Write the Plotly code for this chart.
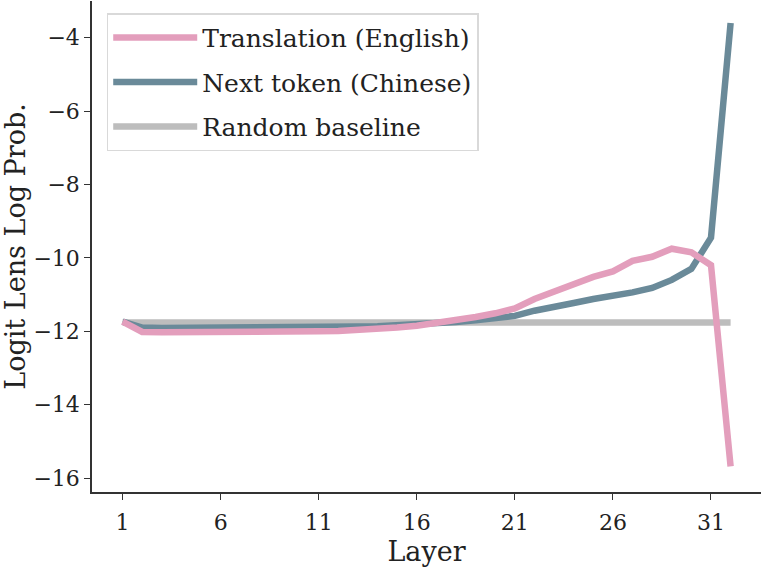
import plotly.graph_objects as go

# data
layers = list(range(1, 33))
translation_en = [-11.74, -12.02, -12.03, -12.03, -12.04, -12.04, -12.03, -12.03, -12.03, -12.02,
                  -12.00, -11.99, -11.97, -11.94, -11.90, -11.85, -11.78, -11.70, -11.61, -11.51,
                  -11.38, -11.12, -10.92, -10.70, -10.52, -10.37, -10.08, -9.97, -9.75, -9.85,
                  -10.20, -15.68]
next_token_zh = [-11.74, -11.90, -11.91, -11.91, -11.91, -11.91, -11.90, -11.90, -11.90, -11.89,
                 -11.89, -11.88, -11.87, -11.86, -11.84, -11.82, -11.78, -11.75, -11.70, -11.65,
                 -11.58, -11.44, -11.35, -11.23, -11.12, -11.05, -10.94, -10.82, -10.60, -10.30,
                 -9.45, -3.60]
random_baseline = -11.76

PINK = "#E39EBC"
TEAL = "#6A8A99"
GRAY = "#BDBDBD"
FONT = "DejaVu Serif"

fig = go.Figure()

fig.add_trace(go.Scatter(
    x=layers, y=[random_baseline] * len(layers), mode="lines",
    line=dict(color=GRAY, width=6.5), name="Random baseline",
    legendrank=3, legendgroup="c",
))
fig.add_trace(go.Scatter(
    x=layers, y=next_token_zh, mode="lines",
    line=dict(color=TEAL, width=6.5), name="Next token (Chinese)",
    legendrank=2, legendgroup="b",
))
fig.add_trace(go.Scatter(
    x=layers, y=translation_en, mode="lines",
    line=dict(color=PINK, width=6.5), name="Translation (English)",
    legendrank=1, legendgroup="a",
))

axis_common = dict(
    showline=True, linecolor="#333333", linewidth=1.5,
    ticks="outside", ticklen=6, tickwidth=1.3, tickcolor="#333333",
    showgrid=False, zeroline=False, automargin=False,
    tickfont=dict(family=FONT, size=22, color="#222222"),
)

fig.update_layout(
    width=761, height=571,
    margin=dict(l=92, r=0, t=1, b=79),
    plot_bgcolor="white", paper_bgcolor="white",
    font=dict(family=FONT, color="#222222"),
    xaxis=dict(
        range=[-0.56, 33.55], tickvals=[1, 6, 11, 16, 21, 26, 31],
        ticklabelstandoff=4,
        title=dict(text="Layer", font=dict(family=FONT, size=27), standoff=8),
        **axis_common,
    ),
    yaxis=dict(
        range=[-16.38, -3.0], tickvals=[-16, -14, -12, -10, -8, -6, -4],
        title=dict(text="Logit Lens Log Prob.", font=dict(family=FONT, size=27), standoff=0),
        **axis_common,
    ),
    legend=dict(
        x=0.022, y=0.975, xanchor="left", yanchor="top",
        bgcolor="white", bordercolor="#D9D9D9", borderwidth=1.5,
        font=dict(family=FONT, size=25, color="#222222"),
        tracegroupgap=9, itemwidth=84,
    ),
)

# drop the default 8px body margin so the figure sits at the page origin
fig.write_html(
    "out.html",
    config={"displayModeBar": False},
    post_script="document.body.style.margin='0';",
)
